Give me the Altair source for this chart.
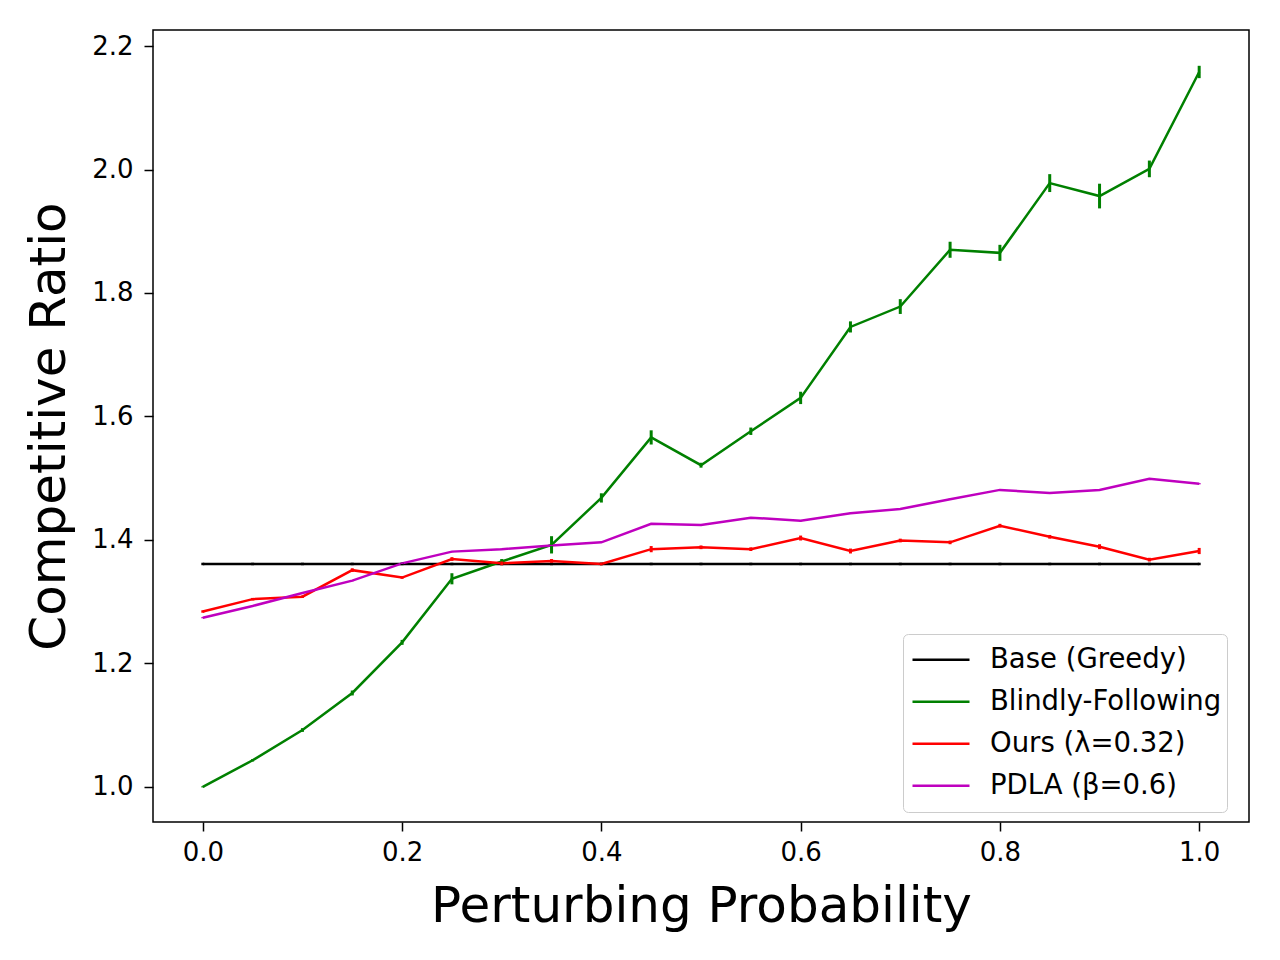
import altair as alt
import pandas as pd

x_vals = [0.0, 0.05, 0.1, 0.15, 0.2, 0.25, 0.3, 0.35, 0.4, 0.45, 0.5,
          0.55, 0.6, 0.65, 0.7, 0.75, 0.8, 0.85, 0.9, 0.95, 1.0]

series_names = ["Base (Greedy)", "Blindly-Following", "Ours (λ=0.32)", "PDLA (β=0.6)"]
series_colors = ["#000000", "#008000", "#ff0000", "#bf00bf"]

base_greedy = [1.361] * 21
base_err = [0.002] * 21

blindly = [1.000, 1.043, 1.092, 1.152, 1.234, 1.337, 1.365, 1.392, 1.468, 1.566, 1.521,
           1.576, 1.630, 1.745, 1.778, 1.870, 1.865, 1.978, 1.957, 2.001, 2.158]
blindly_err = [0.001, 0.002, 0.003, 0.004, 0.004, 0.009, 0.004, 0.014, 0.0075, 0.0115, 0.004,
               0.006, 0.010, 0.009, 0.012, 0.013, 0.013, 0.0145, 0.020, 0.0135, 0.010]

ours = [1.284, 1.304, 1.308, 1.351, 1.339, 1.369, 1.362, 1.366, 1.361, 1.385, 1.388,
        1.385, 1.403, 1.382, 1.399, 1.396, 1.423, 1.405, 1.389, 1.368, 1.382]
ours_err = [0.002, 0.002, 0.002, 0.003, 0.002, 0.003, 0.003, 0.003, 0.002, 0.005, 0.003,
            0.003, 0.004, 0.004, 0.003, 0.003, 0.003, 0.003, 0.004, 0.003, 0.005]

pdla = [1.274, 1.293, 1.314, 1.334, 1.362, 1.381, 1.385, 1.391, 1.396, 1.426, 1.424,
        1.436, 1.431, 1.443, 1.450, 1.466, 1.481, 1.476, 1.481, 1.499, 1.491]
pdla_err = [0.001] * 21

rows = []
for name, vals, errs in zip(series_names,
                            [base_greedy, blindly, ours, pdla],
                            [base_err, blindly_err, ours_err, pdla_err]):
    for xv, yv, ev in zip(x_vals, vals, errs):
        rows.append({"p": xv, "ratio": yv, "lo": yv - ev, "hi": yv + ev, "series": name})
df = pd.DataFrame(rows)

FONT = "DejaVu Sans"

color_scale = alt.Scale(domain=series_names, range=series_colors)

x_enc = alt.X("p:Q",
              scale=alt.Scale(domain=[-0.05, 1.05], nice=False, zero=False),
              axis=alt.Axis(values=[0.0, 0.2, 0.4, 0.6, 0.8, 1.0], format=".1f",
                            title="Perturbing Probability"))
y_enc = alt.Y("ratio:Q",
              scale=alt.Scale(domain=[0.943, 2.226], nice=False, zero=False),
              axis=alt.Axis(values=[1.0, 1.2, 1.4, 1.6, 1.8, 2.0, 2.2], format=".1f",
                            title="Competitive Ratio"))

lines = alt.Chart(df).mark_line(strokeWidth=2.5).encode(
    x=x_enc,
    y=y_enc,
    color=alt.Color("series:N", scale=color_scale, sort=series_names,
                    legend=alt.Legend(title=None, orient="none", legendX=750, legendY=604,
                                      symbolType="stroke", symbolSize=3249,
                                      symbolStrokeWidth=2.5, labelFontSize=27.5,
                                      labelFont=FONT, labelOffset=19, padding=5,
                                      symbolOffset=3, clipHeight=41.3,
                                      labelLimit=500, rowPadding=0, fillColor="white",
                                      strokeColor="#cccccc", cornerRadius=5)),
    detail="series:N",
)

errs = alt.Chart(df).mark_rule(strokeWidth=3).encode(
    x="p:Q",
    y="lo:Q",
    y2="hi:Q",
    color=alt.Color("series:N", scale=color_scale, legend=None),
)

chart = alt.layer(lines, errs).properties(
    width=1096, height=792,
    autosize=alt.AutoSizeParams(type="none"),
    padding={"left": 145, "top": 22, "right": 23, "bottom": 130},
).configure_view(
    stroke="black", strokeWidth=1.5
).configure_axis(
    grid=False, domain=False, tickColor="black", tickWidth=1.5, tickSize=9,
    labelFont=FONT, labelFontSize=26, labelColor="black",
    titleFont=FONT, titleFontSize=50, titleFontWeight="normal", titleColor="black",
).configure_axisX(
    titlePadding=16, labelPadding=8
).configure_axisY(
    titlePadding=17, labelPadding=11
)

chart.save("out.html", embed_options={"renderer": "svg", "actions": False})
